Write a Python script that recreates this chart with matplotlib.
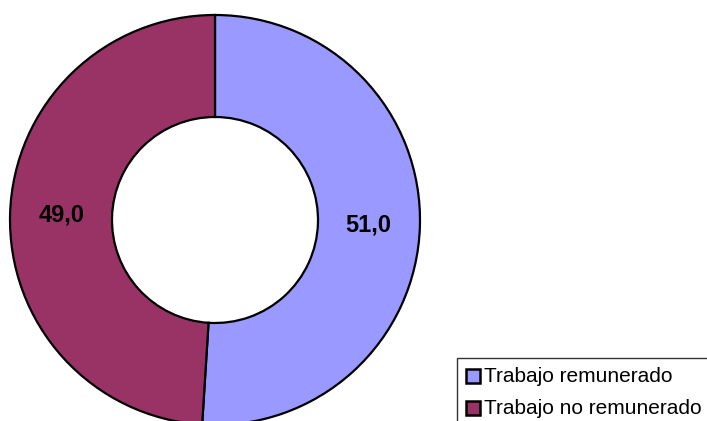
import matplotlib
matplotlib.use("Agg")
import matplotlib.pyplot as plt
from matplotlib.patches import Rectangle

plt.rcParams['font.family'] = ['Liberation Sans', 'DejaVu Sans']

# Datos
categorias = ["Trabajo remunerado", "Trabajo no remunerado"]
valores = [51.0, 49.0]
colores = ["#9999FF", "#993366"]

fig = plt.figure(figsize=(7.07, 4.21), dpi=100)
ax = fig.add_axes([0, 0, 1, 1])

# todo en pixeles: centro (215, 201), radio 205
wedges, textos, autotextos = ax.pie(
    valores, colors=colores, startangle=90, counterclock=False,
    center=(215, 201), radius=205,
    autopct=lambda p: f"{p:.1f}".replace(".", ","), pctdistance=0.75,
    wedgeprops=dict(width=102, edgecolor="black", linewidth=1.6),
    textprops=dict(fontsize=17, fontweight="bold", color="black"))
ax.set_xlim(0, 707)
ax.set_ylim(0, 421)
ax.set_aspect("equal")
ax.axis("off")

# Leyenda dibujada a mano (el marco se sale de la figura)
ax.add_patch(Rectangle((457, -20), 300, 421 - 358 + 20, facecolor="white",
                       edgecolor="#333333", linewidth=1, clip_on=False))
filas_y = [421 - 376, 421 - 408]
for etiqueta, color, y in zip(categorias, colores, filas_y):
    ax.add_patch(Rectangle((466, y - 7), 14, 14, facecolor=color,
                           edgecolor="black", linewidth=1.8, clip_on=False))
    ax.text(484, y, etiqueta, fontsize=15, va="center", ha="left")

fig.savefig("out.png", dpi=100)
